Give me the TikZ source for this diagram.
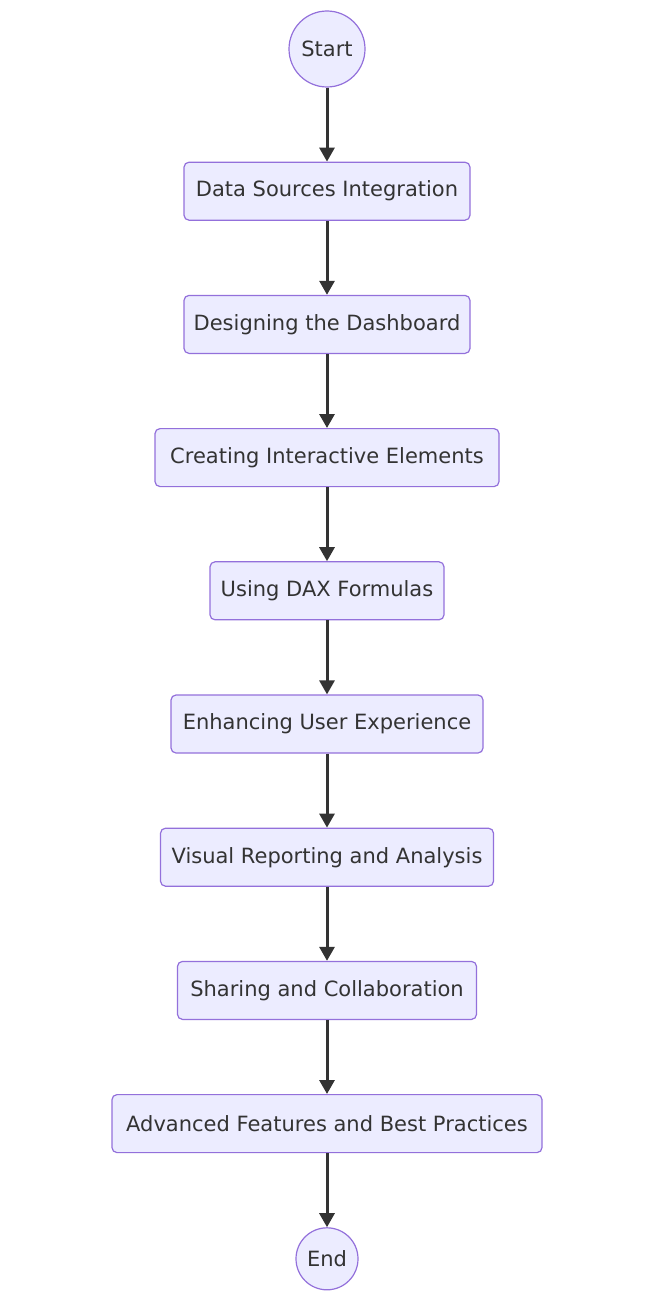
\documentclass[tikz,border=0pt]{standalone}
\usepackage{fontspec}
\setmainfont{DejaVu Sans}
\usetikzlibrary{arrows.meta,positioning}
\usepackage{xcolor}
\definecolor{boxfill}{HTML}{ECECFF}
\definecolor{boxline}{HTML}{9370DB}
\definecolor{inkgray}{HTML}{333333}

\begin{document}
\begin{tikzpicture}[node distance=74pt, auto]
\tikzset{
    stepbox/.style={rectangle, rounded corners=5pt, draw=boxline, fill=boxfill, line width=1.2pt, minimum height=58pt, text=inkgray, font=\fontsize{21}{25}\selectfont, text centered},
    endpoint/.style={circle, draw=boxline, fill=boxfill, line width=1.2pt, inner sep=0pt, text=inkgray, font=\fontsize{21}{25}\selectfont},
    flowarrow/.style={-{Triangle[length=14pt, width=15pt]}, line width=3pt, draw=inkgray, fill=inkgray}
}
\useasboundingbox (0,0) rectangle (655pt,-1303pt);
\node[endpoint, minimum size=76pt] (start) at (327pt,-49pt) {Start};
\node[stepbox, minimum width=286pt, below=of start] (sources) {Data Sources Integration};
\node[stepbox, minimum width=286pt, below=of sources] (design) {Designing the Dashboard};
\node[stepbox, minimum width=344pt, below=of design] (interactive) {Creating Interactive Elements};
\node[stepbox, minimum width=234pt, below=of interactive] (dax) {Using DAX Formulas};
\node[stepbox, minimum width=312pt, below=of dax] (experience) {Enhancing User Experience};
\node[stepbox, minimum width=333pt, below=of experience] (reporting) {Visual Reporting and Analysis};
\node[stepbox, minimum width=299pt, below=of reporting] (sharing) {Sharing and Collaboration};
\node[stepbox, minimum width=430pt, below=of sharing] (advanced) {Advanced Features and Best Practices};
\node[endpoint, minimum size=62pt, below=of advanced] (finish) {End};

% one arrow between each pair of steps
\foreach \from/\to in {start/sources, sources/design, design/interactive, interactive/dax, dax/experience, experience/reporting, reporting/sharing, sharing/advanced, advanced/finish}
    \draw[flowarrow] (\from) -- (\to);

\end{tikzpicture}
\end{document}
